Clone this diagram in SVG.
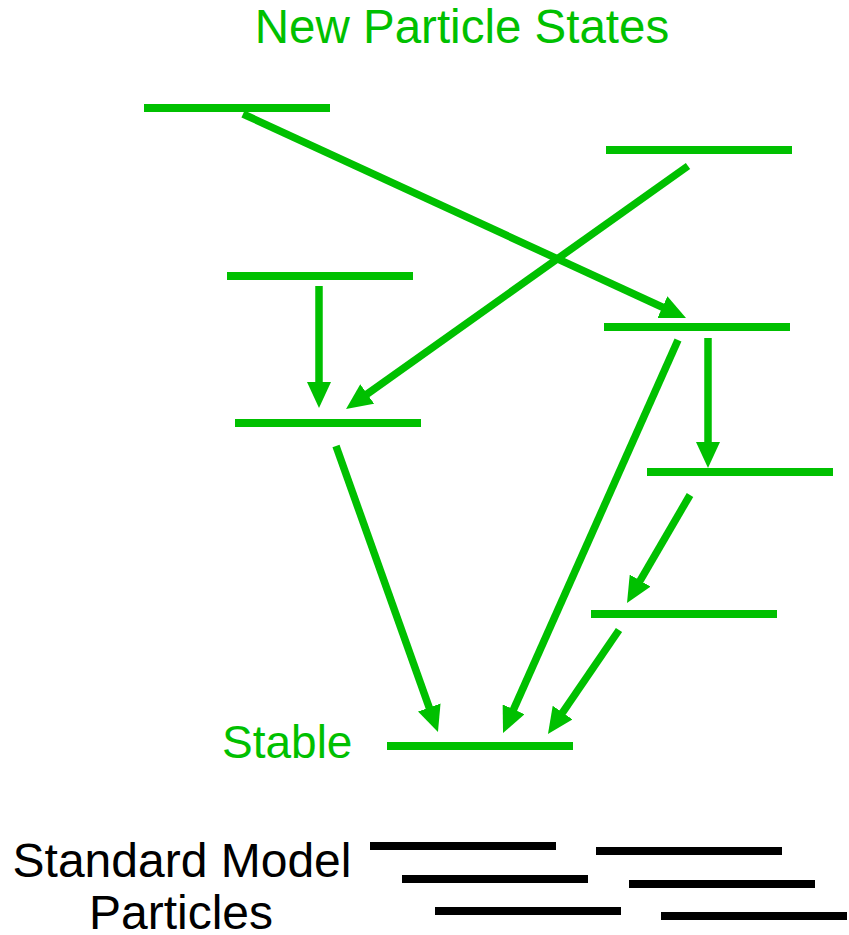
<svg xmlns="http://www.w3.org/2000/svg" width="849" height="935" viewBox="0 0 849 935">
<style>
.lvl{stroke:#00C000;stroke-width:8;fill:none}
.sm{stroke:#000;stroke-width:8;fill:none}
.arr{stroke:#00C000;stroke-width:7.5;fill:none;marker-end:url(#ah)}
.g{fill:#00C000;font-family:"Liberation Sans",Arial,sans-serif}
.k{fill:#000;font-family:"Liberation Sans",Arial,sans-serif}
</style>
<defs>
<marker id="ah" markerUnits="userSpaceOnUse" markerWidth="26" markerHeight="24" viewBox="0 0 26 24" refX="2" refY="12" orient="auto">
<path d="M0,0 L26,12 L0,24 z" fill="#00C000"/>
</marker>
</defs>
<rect width="849" height="935" fill="#fff"/>
<text class="g" x="462" y="43" font-size="47.5" text-anchor="middle">New Particle States</text>
<g id="level1"><line class="lvl" x1="144" y1="108" x2="330" y2="108"/></g>
<g id="level2"><line class="lvl" x1="606" y1="150" x2="792" y2="150"/></g>
<g id="level3"><line class="lvl" x1="227" y1="276" x2="413" y2="276"/></g>
<g id="level4"><line class="lvl" x1="604" y1="327" x2="790" y2="327"/></g>
<g id="level5"><line class="lvl" x1="235" y1="423" x2="421" y2="423"/></g>
<g id="level6"><line class="lvl" x1="647" y1="472" x2="833" y2="472"/></g>
<g id="level7"><line class="lvl" x1="591" y1="614" x2="777" y2="614"/></g>
<g id="stable"><line class="lvl" x1="387" y1="746" x2="573" y2="746"/>
<text class="g" x="222" y="758" font-size="46">Stable</text></g>
<g id="connectors">
<line class="arr" x1="243" y1="114" x2="664.2" y2="308"/>
<line class="arr" x1="688" y1="166" x2="365.6" y2="395.1"/>
<line class="arr" x1="319" y1="286" x2="319" y2="384"/>
<line class="arr" x1="336" y1="446" x2="429.9" y2="709.4"/>
<line class="arr" x1="678" y1="340" x2="512.8" y2="711.1"/>
<line class="arr" x1="708" y1="338" x2="708" y2="444"/>
<line class="arr" x1="690" y1="495" x2="639.1" y2="582.3"/>
<line class="arr" x1="619" y1="630" x2="561.5" y2="714.2"/>
</g>
<g id="standard-model">
<line class="sm" x1="370" y1="846" x2="556" y2="846"/>
<line class="sm" x1="596" y1="851" x2="782" y2="851"/>
<line class="sm" x1="402" y1="879" x2="588" y2="879"/>
<line class="sm" x1="629" y1="884" x2="815" y2="884"/>
<line class="sm" x1="435" y1="911" x2="621" y2="911"/>
<line class="sm" x1="661" y1="916" x2="847" y2="916"/>
<text class="k" font-size="48" text-anchor="middle"><tspan x="182" y="877">Standard Model</tspan><tspan x="181" y="929">Particles</tspan></text>
</g>
</svg>
